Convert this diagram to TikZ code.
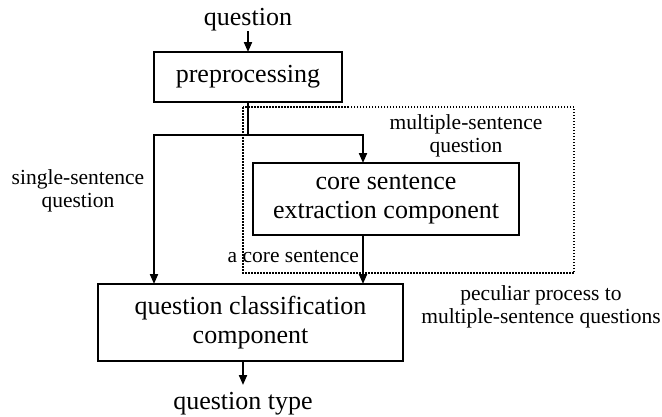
\documentclass[tikz,border=0pt]{standalone}
\usepackage{fontspec}
\setmainfont{Liberation Serif}
\usetikzlibrary{arrows.meta}
\begin{document}
\begin{tikzpicture}[x=1pt,y=-1pt,
  big/.style={font=\fontsize{26}{29}\selectfont},
  small/.style={font=\fontsize{21.5}{23.5}\selectfont},
  procbox/.style={draw,line width=2pt,big,align=center,inner sep=0pt,outer sep=0pt},
  lbl/.style={inner sep=0pt,outer sep=0pt,align=center},
  arr/.style={line width=2pt,-{Triangle[length=10pt,width=8pt]}},
  conn/.style={line width=2pt},
  region/.style={line width=1.5pt,dash pattern=on 1.5pt off 1.5pt}]
\useasboundingbox (0,0) rectangle (662,416);
% dotted region
\draw[region] (243,107) rectangle (574,273);
% boxes
\node[procbox,minimum width=188pt,minimum height=50pt] (pre) at (248,77) {preprocessing};
\node[procbox,minimum width=266pt,minimum height=72pt] (core) at (386,199) {core sentence\\extraction component};
\node[procbox,minimum width=305pt,minimum height=77pt] (cls) at (250.5,322.5) {question classification\\component};
% texts
\node[lbl,big,anchor=base] (qin) at (248,25) {question};
\node[lbl,big,anchor=base] (qout) at (243,409) {question type};
\node[lbl,small] (single) at (78,191) {single-sentence\\question};
\node[lbl,small] (multi) at (466,136) {multiple-sentence\\question};
\node[lbl,small,anchor=base east] (acore) at (359,262) {a core sentence};
\node[lbl,small] (pec) at (541,307) {peculiar process to\\multiple-sentence questions};
% connectors
\coordinate (br) at (248,135);
\coordinate (brl) at (154,135);
\coordinate (brr) at (363,135);
\draw[arr] ([yshift=-6pt]qin.base) -- (pre.north);
\draw[conn] (pre.south) -- (br);
\draw[arr] (br) -- (brl) -- (brl |- cls.north);
\draw[arr] (br) -- (brr) -- (brr |- core.north);
\draw[arr] (brr |- core.south) -- (brr |- cls.north);
\draw[arr] (qout.base |- cls.south) -- ([yshift=24pt]qout.base);
\end{tikzpicture}
\end{document}
